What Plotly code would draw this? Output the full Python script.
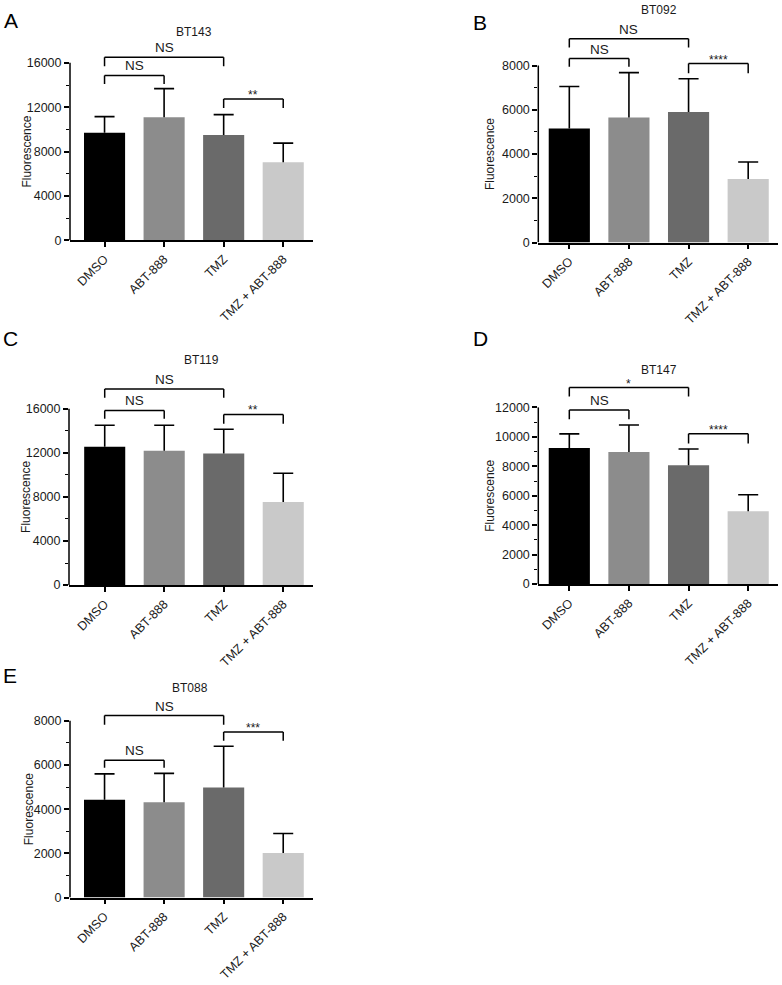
import plotly.graph_objects as go

# ---------------- data ----------------
categories = ["DMSO", "ABT-888", "TMZ", "TMZ + ABT-888"]
bar_colors = ["#000000", "#8c8c8c", "#6a6a6a", "#c9c9c9"]

bt143_mean = [9700, 11100, 9500, 7030]
bt143_sd = [1450, 2580, 1830, 1730]
bt143_ticks = [0, 4000, 8000, 12000, 16000]

bt092_mean = [5150, 5650, 5900, 2870]
bt092_sd = [1900, 2030, 1500, 770]
bt092_ticks = [0, 2000, 4000, 6000, 8000]

bt119_mean = [12550, 12200, 11950, 7550]
bt119_sd = [1950, 2300, 2190, 2600]
bt119_ticks = [0, 4000, 8000, 12000, 16000]

bt147_mean = [9250, 8970, 8070, 4950]
bt147_sd = [950, 1830, 1100, 1120]
bt147_ticks = [0, 2000, 4000, 6000, 8000, 10000, 12000]

bt088_mean = [4430, 4310, 4980, 2020]
bt088_sd = [1170, 1310, 1870, 880]
bt088_ticks = [0, 2000, 4000, 6000, 8000]

# significance comparisons: (group i, group j, label)
bt143_sig = [(0, 1, "NS"), (0, 2, "NS"), (2, 3, "**")]
bt092_sig = [(0, 1, "NS"), (0, 2, "NS"), (2, 3, "****")]
bt119_sig = [(0, 1, "NS"), (0, 2, "NS"), (2, 3, "**")]
bt147_sig = [(0, 1, "NS"), (0, 2, "*"), (2, 3, "****")]
bt088_sig = [(0, 1, "NS"), (0, 2, "NS"), (2, 3, "***")]

# ---------------- layout helpers ----------------
W, H = 782, 985
FONT = "Liberation Sans, Arial, sans-serif"
CAP = 0.168  # half-width of error-bar caps, in category units


def fx(p):
    return p / W


def fy(p):
    return 1 - p / H


panels = [
    dict(name="BT143", letter="A", mean=bt143_mean, sd=bt143_sd, ticks=bt143_ticks, sig=bt143_sig,
         bh=[(14870, 14100), (16510, 15700), (12750, 11920)], ymax=17000,
         x0=70, x1=313, zero=242, top=63.3, xoff=0.58,
         title=(194, 32), letter_xy=(11, 20.5), ytitle=27),
    dict(name="BT092", letter="B", mean=bt092_mean, sd=bt092_sd, ticks=bt092_ticks, sig=bt092_sig,
         bh=[(8315, 7940), (9213, 8810), (8090, 7655)], ymax=9500,
         x0=538.3, x1=778, zero=244.3, top=66, xoff=0.52,
         title=(659, 10), letter_xy=(480, 22.5), ytitle=490),
    dict(name="BT119", letter="C", mean=bt119_mean, sd=bt119_sd, ticks=bt119_ticks, sig=bt119_sig,
         bh=[(15850, 15100), (17800, 16990), (15490, 14650)], ymax=18500,
         x0=69, x1=313, zero=589.3, top=411.7, xoff=0.6,
         title=(201, 363), letter_xy=(10, 340.5), ytitle=26),
    dict(name="BT147", letter="D", mean=bt147_mean, sd=bt147_sd, ticks=bt147_ticks, sig=bt147_sig,
         bh=[(11820, 11191), (13348, 12742), (10202, 9551)], ymax=14000,
         x0=538.3, x1=778, zero=588.3, top=410.3, xoff=0.52,
         title=(659, 373), letter_xy=(480, 340.5), ytitle=490),
    dict(name="BT088", letter="E", mean=bt088_mean, sd=bt088_sd, ticks=bt088_ticks, sig=bt088_sig,
         bh=[(6217, 5873), (8240, 7820), (7491, 7101)], ymax=8600,
         x0=70, x1=313, zero=904, top=726, xoff=0.58,
         title=(189.5, 693), letter_xy=(10, 680.5), ytitle=29),
]

fig = go.Figure()
annotations = []
shapes = []
xpos = list(range(len(categories)))

for k, p in enumerate(panels):
    idx = "" if k == 0 else str(k + 1)
    xa, ya = "x" + idx, "y" + idx
    ticks = p["ticks"]
    ttop = ticks[-1]
    ppu = (p["zero"] - p["top"]) / ttop
    top_px = p["zero"] - p["ymax"] * ppu
    step = ticks[1] - ticks[0]
    minor_vals = [t + step / 2 for t in ticks[:-1]]

    fig.add_trace(go.Bar(
        x=xpos, y=p["mean"], xaxis=xa, yaxis=ya, width=0.69,
        marker=dict(color=bar_colors, line=dict(width=0)),
        showlegend=False, hoverinfo="skip"))

    # upper-only error bars (SD) drawn from each bar top
    ex, ey = [], []
    for i, (m, s) in enumerate(zip(p["mean"], p["sd"])):
        ex += [i, i, None, i - CAP, i + CAP, None]
        ey += [m, m + s, None, m + s, m + s, None]
    fig.add_trace(go.Scatter(
        x=ex, y=ey, xaxis=xa, yaxis=ya, mode="lines",
        line=dict(color="#000000", width=1.6), connectgaps=False,
        showlegend=False, hoverinfo="skip"))

    lay_x = "xaxis" + idx
    lay_y = "yaxis" + idx
    fig.layout[lay_x] = dict(
        domain=[fx(p["x0"]), fx(p["x1"])], range=[-p["xoff"], 3.5], anchor=ya,
        tickmode="array", tickvals=xpos, ticktext=categories, tickangle=-45,
        ticks="outside", ticklen=5, tickwidth=1.5, tickcolor="#000000",
        showline=True, linewidth=1.5, linecolor="#000000",
        showgrid=False, zeroline=False, fixedrange=True,
        tickfont=dict(family=FONT, size=12.5, color="#1a1a1a"))
    fig.layout[lay_y] = dict(
        domain=[fy(p["zero"]), fy(top_px)], range=[0, p["ymax"]], anchor=xa,
        tickmode="array", tickvals=ticks, ticktext=[str(t) for t in ticks],
        ticks="outside", ticklen=5, tickwidth=1.5, tickcolor="#000000",
        minor=dict(tickmode="array", tickvals=minor_vals, ticks="outside", ticklen=3,
                   tickwidth=1.2, tickcolor="#000000", showgrid=False),
        showline=False, showgrid=False, zeroline=False, fixedrange=True,
        tickfont=dict(family=FONT, size=12.5, color="#1a1a1a"))

    # y axis line up to the top tick
    shapes.append(dict(type="line", xref=xa + " domain", yref=ya, x0=0, x1=0, y0=0, y1=ttop,
                       line=dict(color="#000000", width=1.5)))

    # significance brackets
    for (i, j, lab), (h, tip) in zip(p["sig"], p["bh"]):
        shapes.append(dict(type="line", xref=xa, yref=ya, x0=i, x1=i, y0=tip, y1=h,
                           line=dict(color="#000000", width=1.5)))
        shapes.append(dict(type="line", xref=xa, yref=ya, x0=i, x1=j, y0=h, y1=h,
                           line=dict(color="#000000", width=1.5)))
        shapes.append(dict(type="line", xref=xa, yref=ya, x0=j, x1=j, y0=h, y1=tip,
                           line=dict(color="#000000", width=1.5)))
        star = lab.startswith("*")
        annotations.append(dict(
            x=(i + j) / 2, y=h, xref=xa, yref=ya, text=lab, showarrow=False,
            xanchor="center", yanchor="bottom", yshift=-5 if star else 0,
            font=dict(family=FONT, size=12 if star else 13.5, color="#1a1a1a")))

    # panel title, letter, y axis title
    annotations.append(dict(x=fx(p["title"][0]), y=fy(p["title"][1]), xref="paper", yref="paper",
                            text=p["name"], showarrow=False, xanchor="center", yanchor="middle",
                            font=dict(family=FONT, size=12, color="#1a1a1a")))
    annotations.append(dict(x=fx(p["letter_xy"][0]), y=fy(p["letter_xy"][1]), xref="paper", yref="paper",
                            text=p["letter"], showarrow=False, xanchor="center", yanchor="middle",
                            font=dict(family=FONT, size=21, color="#000000")))
    annotations.append(dict(x=fx(p["ytitle"]), y=fy((p["zero"] + p["top"]) / 2), xref="paper", yref="paper",
                            text="Fluorescence", showarrow=False, textangle=-90,
                            xanchor="center", yanchor="middle",
                            font=dict(family=FONT, size=12, color="#1a1a1a")))

fig.update_layout(
    width=W, height=H, margin=dict(l=0, r=0, t=0, b=0),
    paper_bgcolor="#ffffff", plot_bgcolor="#ffffff",
    showlegend=False, shapes=shapes, annotations=annotations)

fig.write_html("out.html", config={"displayModeBar": False},
               post_script="document.body.style.margin='0';")
